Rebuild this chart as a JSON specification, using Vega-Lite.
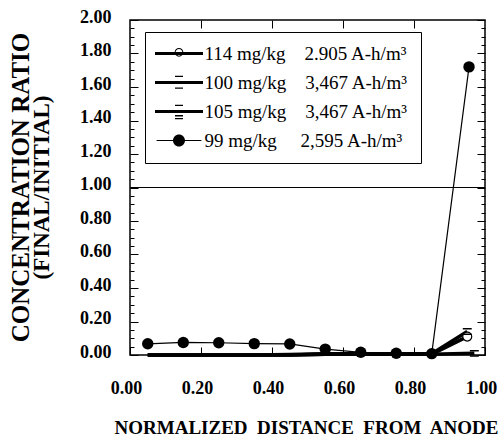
{
  "$schema": "https://vega.github.io/schema/vega-lite/v6.json",
  "width": 355,
  "height": 335,
  "autosize": {"type": "none"},
  "padding": {"left": 130, "top": 20, "right": 15, "bottom": 82},
  "background": "white",
  "config": {
    "font": "Liberation Serif",
    "view": {"stroke": "black", "strokeWidth": 1.5},
    "axis": {
      "domain": false,
      "grid": false,
      "labelFlush": false,
      "tickColor": "black",
      "tickWidth": 1,
      "labelColor": "black",
      "labelFont": "Liberation Serif",
      "labelFontSize": 18,
      "labelFontWeight": "bold",
      "titleColor": "black"
    }
  },
  "title": {
    "text": "CONCENTRATION RATIO",
    "subtitle": "(FINAL/INITIAL)",
    "orient": "left",
    "anchor": "middle",
    "font": "Liberation Serif",
    "fontSize": 25,
    "fontWeight": "bold",
    "color": "black",
    "subtitleFont": "Liberation Serif",
    "subtitleFontSize": 23,
    "subtitleFontWeight": "bold",
    "subtitleColor": "black",
    "subtitlePadding": -3,
    "offset": 26
  },
  "datasets": {
    "main": [
      {"id": "114", "series": "114 mg/kg\u00a0\u00a0\u00a0\u00a02.905 A-h/m\u00b3", "x": 0.05, "y": 0},
      {"id": "114", "series": "114 mg/kg\u00a0\u00a0\u00a0\u00a02.905 A-h/m\u00b3", "x": 0.15, "y": 0},
      {"id": "114", "series": "114 mg/kg\u00a0\u00a0\u00a0\u00a02.905 A-h/m\u00b3", "x": 0.25, "y": 0},
      {"id": "114", "series": "114 mg/kg\u00a0\u00a0\u00a0\u00a02.905 A-h/m\u00b3", "x": 0.35, "y": 0},
      {"id": "114", "series": "114 mg/kg\u00a0\u00a0\u00a0\u00a02.905 A-h/m\u00b3", "x": 0.45, "y": 0},
      {"id": "114", "series": "114 mg/kg\u00a0\u00a0\u00a0\u00a02.905 A-h/m\u00b3", "x": 0.55, "y": 0.005},
      {"id": "114", "series": "114 mg/kg\u00a0\u00a0\u00a0\u00a02.905 A-h/m\u00b3", "x": 0.65, "y": 0.005},
      {"id": "114", "series": "114 mg/kg\u00a0\u00a0\u00a0\u00a02.905 A-h/m\u00b3", "x": 0.75, "y": 0.005},
      {"id": "114", "series": "114 mg/kg\u00a0\u00a0\u00a0\u00a02.905 A-h/m\u00b3", "x": 0.85, "y": 0.005},
      {"id": "114", "series": "114 mg/kg\u00a0\u00a0\u00a0\u00a02.905 A-h/m\u00b3", "x": 0.95, "y": 0.11},
      {"id": "100", "series": "100 mg/kg\u00a0\u00a0\u00a0\u00a03,467 A-h/m\u00b3", "x": 0.05, "y": 0},
      {"id": "100", "series": "100 mg/kg\u00a0\u00a0\u00a0\u00a03,467 A-h/m\u00b3", "x": 0.15, "y": 0},
      {"id": "100", "series": "100 mg/kg\u00a0\u00a0\u00a0\u00a03,467 A-h/m\u00b3", "x": 0.25, "y": 0},
      {"id": "100", "series": "100 mg/kg\u00a0\u00a0\u00a0\u00a03,467 A-h/m\u00b3", "x": 0.35, "y": 0},
      {"id": "100", "series": "100 mg/kg\u00a0\u00a0\u00a0\u00a03,467 A-h/m\u00b3", "x": 0.45, "y": 0.003},
      {"id": "100", "series": "100 mg/kg\u00a0\u00a0\u00a0\u00a03,467 A-h/m\u00b3", "x": 0.55, "y": 0.008},
      {"id": "100", "series": "100 mg/kg\u00a0\u00a0\u00a0\u00a03,467 A-h/m\u00b3", "x": 0.65, "y": 0.008},
      {"id": "100", "series": "100 mg/kg\u00a0\u00a0\u00a0\u00a03,467 A-h/m\u00b3", "x": 0.75, "y": 0.008},
      {"id": "100", "series": "100 mg/kg\u00a0\u00a0\u00a0\u00a03,467 A-h/m\u00b3", "x": 0.85, "y": 0.008},
      {"id": "100", "series": "100 mg/kg\u00a0\u00a0\u00a0\u00a03,467 A-h/m\u00b3", "x": 0.95, "y": 0.14},
      {"id": "105", "series": "105 mg/kg\u00a0\u00a0\u00a0\u00a03,467 A-h/m\u00b3", "x": 0.05, "y": 0},
      {"id": "105", "series": "105 mg/kg\u00a0\u00a0\u00a0\u00a03,467 A-h/m\u00b3", "x": 0.15, "y": 0},
      {"id": "105", "series": "105 mg/kg\u00a0\u00a0\u00a0\u00a03,467 A-h/m\u00b3", "x": 0.25, "y": 0},
      {"id": "105", "series": "105 mg/kg\u00a0\u00a0\u00a0\u00a03,467 A-h/m\u00b3", "x": 0.35, "y": 0},
      {"id": "105", "series": "105 mg/kg\u00a0\u00a0\u00a0\u00a03,467 A-h/m\u00b3", "x": 0.45, "y": 0},
      {"id": "105", "series": "105 mg/kg\u00a0\u00a0\u00a0\u00a03,467 A-h/m\u00b3", "x": 0.55, "y": 0.005},
      {"id": "105", "series": "105 mg/kg\u00a0\u00a0\u00a0\u00a03,467 A-h/m\u00b3", "x": 0.65, "y": 0.005},
      {"id": "105", "series": "105 mg/kg\u00a0\u00a0\u00a0\u00a03,467 A-h/m\u00b3", "x": 0.75, "y": 0.005},
      {"id": "105", "series": "105 mg/kg\u00a0\u00a0\u00a0\u00a03,467 A-h/m\u00b3", "x": 0.85, "y": 0.005},
      {"id": "105", "series": "105 mg/kg\u00a0\u00a0\u00a0\u00a03,467 A-h/m\u00b3", "x": 0.97, "y": 0.01},
      {"id": "99", "series": "\u00a099 mg/kg\u00a0\u00a0\u00a0\u00a0\u00a02,595 A-h/m\u00b3", "x": 0.05, "y": 0.067},
      {"id": "99", "series": "\u00a099 mg/kg\u00a0\u00a0\u00a0\u00a0\u00a02,595 A-h/m\u00b3", "x": 0.15, "y": 0.075},
      {"id": "99", "series": "\u00a099 mg/kg\u00a0\u00a0\u00a0\u00a0\u00a02,595 A-h/m\u00b3", "x": 0.25, "y": 0.073},
      {"id": "99", "series": "\u00a099 mg/kg\u00a0\u00a0\u00a0\u00a0\u00a02,595 A-h/m\u00b3", "x": 0.35, "y": 0.068},
      {"id": "99", "series": "\u00a099 mg/kg\u00a0\u00a0\u00a0\u00a0\u00a02,595 A-h/m\u00b3", "x": 0.45, "y": 0.066},
      {"id": "99", "series": "\u00a099 mg/kg\u00a0\u00a0\u00a0\u00a0\u00a02,595 A-h/m\u00b3", "x": 0.55, "y": 0.035},
      {"id": "99", "series": "\u00a099 mg/kg\u00a0\u00a0\u00a0\u00a0\u00a02,595 A-h/m\u00b3", "x": 0.65, "y": 0.016},
      {"id": "99", "series": "\u00a099 mg/kg\u00a0\u00a0\u00a0\u00a0\u00a02,595 A-h/m\u00b3", "x": 0.75, "y": 0.01},
      {"id": "99", "series": "\u00a099 mg/kg\u00a0\u00a0\u00a0\u00a0\u00a02,595 A-h/m\u00b3", "x": 0.85, "y": 0.008},
      {"id": "99", "series": "\u00a099 mg/kg\u00a0\u00a0\u00a0\u00a0\u00a02,595 A-h/m\u00b3", "x": 0.955, "y": 1.72}
    ],
    "ref": [{"ratio": 1}]
  },
  "layer": [
    {
      "data": {"name": "ref"},
      "mark": {"type": "rule", "color": "black", "strokeWidth": 1.2},
      "encoding": {
        "y": {
          "field": "ratio", "type": "quantitative",
          "scale": {"domain": [0, 2], "nice": false},
          "axis": {
            "orient": "right", "title": null, "labels": false,
            "values": [0,0.05,0.1,0.15,0.2,0.25,0.3,0.35,0.4,0.45,0.5,0.55,0.6,0.65,0.7,0.75,0.8,0.85,0.9,0.95,1,1.05,1.1,1.15,1.2,1.25,1.3,1.35,1.4,1.45,1.5,1.55,1.6,1.65,1.7,1.75,1.8,1.85,1.9,1.95,2],
            "tickSize": {"condition": {"test": "abs(datum.value*5 - round(datum.value*5)) < 0.001", "value": -8}, "value": -4}
          }
        }
      }
    },
    {
      "data": {"name": "main"},
      "transform": [{"filter": "datum.id != '99'"}],
      "mark": {"type": "line", "color": "black", "strokeWidth": 3.5},
      "encoding": {
        "x": {
          "field": "x", "type": "quantitative",
          "scale": {"domain": [0, 1], "nice": false},
          "axis": {
            "orient": "bottom",
            "values": [0, 0.2, 0.4, 0.6, 0.8, 1],
            "format": ".2f",
            "tickSize": -8,
            "labelPadding": 32,
            "labelOffset": -4,
            "title": "NORMALIZED\u00a0 DISTANCE\u00a0 FROM\u00a0 ANODE",
            "titleFont": "Liberation Serif",
            "titleFontSize": 19,
            "titleFontWeight": "bold",
            "titleX": 176,
            "titleY": 78,
            "titleBaseline": "alphabetic",
            "titleAlign": "center"
          }
        },
        "y": {
          "field": "y", "type": "quantitative",
          "scale": {"domain": [0, 2], "nice": false},
          "axis": {
            "orient": "left", "title": null,
            "values": [0,0.05,0.1,0.15,0.2,0.25,0.3,0.35,0.4,0.45,0.5,0.55,0.6,0.65,0.7,0.75,0.8,0.85,0.9,0.95,1,1.05,1.1,1.15,1.2,1.25,1.3,1.35,1.4,1.45,1.5,1.55,1.6,1.65,1.7,1.75,1.8,1.85,1.9,1.95,2],
            "labelExpr": "abs(datum.value*5 - round(datum.value*5)) < 0.001 ? format(datum.value, '.2f') : ''",
            "labelOverlap": false,
            "labelPadding": 27,
            "labelOffset": -3,
            "tickSize": {"condition": {"test": "abs(datum.value*5 - round(datum.value*5)) < 0.001", "value": -8}, "value": -4}
          }
        },
        "detail": {"field": "id"}
      }
    },
    {
      "data": {"name": "main"},
      "transform": [{"filter": "datum.id == '99'"}],
      "mark": {"type": "line", "color": "black", "strokeWidth": 1.2},
      "encoding": {
        "x": {"field": "x", "type": "quantitative", "scale": {"domain": [0, 1], "nice": false}, "axis": null},
        "y": {"field": "y", "type": "quantitative", "scale": {"domain": [0, 2], "nice": false}, "axis": null}
      }
    },
    {
      "data": {"name": "main"},
      "transform": [{"filter": "datum.id == '99'"}],
      "mark": {"type": "point", "shape": "circle", "filled": true, "color": "black", "size": 130, "opacity": 1},
      "encoding": {
        "x": {"field": "x", "type": "quantitative", "scale": {"domain": [0, 1], "nice": false}, "axis": null},
        "y": {"field": "y", "type": "quantitative", "scale": {"domain": [0, 2], "nice": false}, "axis": null}
      }
    },
    {
      "data": {"name": "main"},
      "transform": [{"filter": "datum.id == '114' && datum.x > 0.9"}],
      "mark": {"type": "point", "shape": "circle", "filled": true, "fill": "white", "stroke": "black", "strokeWidth": 1.2, "size": 80, "opacity": 1},
      "encoding": {
        "x": {"field": "x", "type": "quantitative", "scale": {"domain": [0, 1], "nice": false}, "axis": null},
        "y": {"field": "y", "type": "quantitative", "scale": {"domain": [0, 2], "nice": false}, "axis": null}
      }
    },
    {
      "data": {"name": "main"},
      "transform": [{"filter": "(datum.id == '100' || datum.id == '105') && datum.x > 0.9"}],
      "mark": {"type": "point", "shape": "M-1,-0.6H1M-1,0.6H1", "filled": false, "stroke": "black", "strokeWidth": 1.5, "size": 80, "opacity": 1},
      "encoding": {
        "x": {"field": "x", "type": "quantitative", "scale": {"domain": [0, 1], "nice": false}, "axis": null},
        "y": {"field": "y", "type": "quantitative", "scale": {"domain": [0, 2], "nice": false}, "axis": null}
      }
    },
    {
      "data": {"name": "main"},
      "transform": [{"filter": "false"}],
      "mark": {"type": "point", "filled": true, "color": "black", "opacity": 1},
      "encoding": {
        "x": {
          "field": "x", "type": "quantitative",
          "scale": {"domain": [0, 1], "nice": false},
          "axis": {"orient": "top", "title": null, "labels": false, "values": [0.2, 0.4, 0.6, 0.8], "tickSize": -8}
        },
        "y": {"field": "y", "type": "quantitative", "scale": {"domain": [0, 2], "nice": false}, "axis": null},
        "shape": {
          "field": "series", "type": "nominal",
          "scale": {
            "domain": [
              "114 mg/kg\u00a0\u00a0\u00a0\u00a02.905 A-h/m\u00b3",
              "100 mg/kg\u00a0\u00a0\u00a0\u00a03,467 A-h/m\u00b3",
              "105 mg/kg\u00a0\u00a0\u00a0\u00a03,467 A-h/m\u00b3",
              "\u00a099 mg/kg\u00a0\u00a0\u00a0\u00a0\u00a02,595 A-h/m\u00b3"
            ],
            "range": [
              "M-3,-0.2H3V0.2H-3Z M0.55,-0.15A0.55,0.55 0 1,1 -0.55,-0.15A0.55,0.55 0 1,1 0.55,-0.15Z M0.42,-0.15A0.42,0.42 0 1,0 -0.42,-0.15A0.42,0.42 0 1,0 0.42,-0.15Z",
              "M-3,-0.2H3V0.2H-3Z M-0.5,-0.85H0.5V-0.68H-0.5Z M-0.5,0.62H0.5V0.79H-0.5Z",
              "M-3,-0.2H3V0.2H-3Z M-0.5,-0.85H0.5V-0.68H-0.5Z M-0.5,0.45H0.5V0.62H-0.5Z M-0.5,0.8H0.5V0.97H-0.5Z",
              "M-2.8,-0.07H2.8V0.07H-2.8Z M0.75,0A0.75,0.75 0 1,1 -0.75,0A0.75,0.75 0 1,1 0.75,0Z"
            ]
          },
          "legend": {
            "orient": "none",
            "legendX": 15,
            "legendY": 12,
            "title": null,
            "symbolSize": 256,
            "symbolOffset": 12.5,
            "labelOffset": 16,
            "labelFont": "Liberation Serif",
            "labelFontSize": 19,
            "labelFontWeight": "normal",
            "labelColor": "black",
            "labelLimit": 400,
            "rowPadding": 9,
            "padding": 12,
            "strokeColor": "black",
            "fillColor": "white",
            "symbolFillColor": "black",
            "symbolStrokeColor": "black",
            "symbolStrokeWidth": 0.3,
            "symbolOpacity": 1,
            "encode": {
              "legend": {"update": {"strokeWidth": {"value": 3}}},
              "symbols": {"update": {"opacity": {"value": 1}, "fill": {"value": "black"}, "stroke": {"value": "black"}}}
            }
          }
        }
      }
    }
  ],
  "resolve": {
    "scale": {"x": "independent", "y": "independent", "shape": "independent"},
    "axis": {"x": "independent", "y": "independent"}
  }
}
